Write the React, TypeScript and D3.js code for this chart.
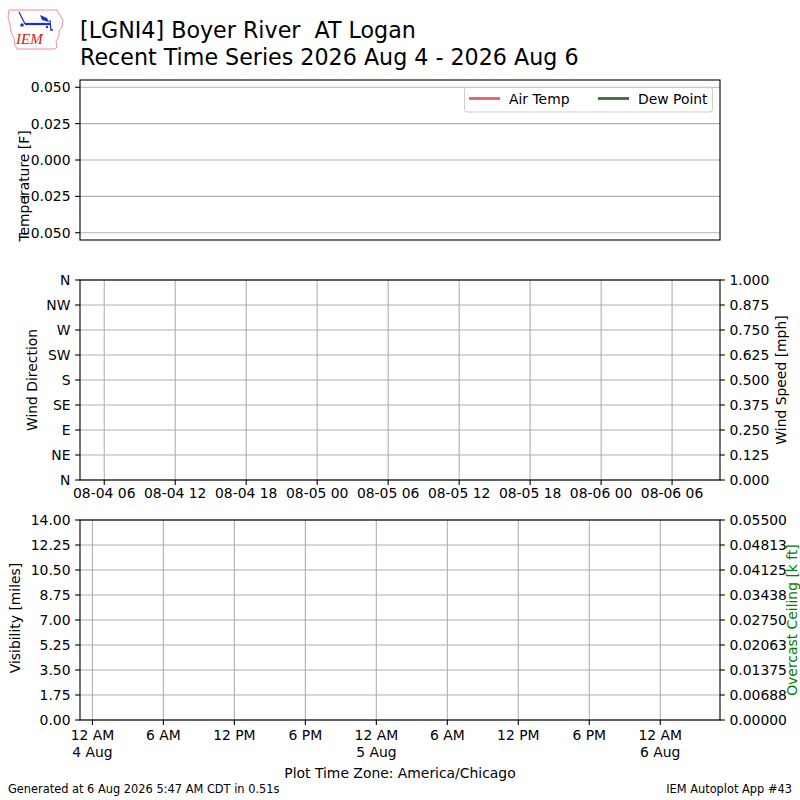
import { useRef, useEffect } from 'react'
import * as d3 from 'd3'

// Chart content
const titleLines = ['[LGNI4] Boyer River  AT Logan', 'Recent Time Series 2026 Aug 4 - 2026 Aug 6']
const timeDomain = ['2026-08-04T03:57:00Z', '2026-08-06T10:03:00Z']

const tempDomain = [-0.055, 0.055]
const tempTicks = [-0.05, -0.025, 0, 0.025, 0.05]

const legendNames = ['Air Temp', 'Dew Point']
const legendColors = ['#e0606e', '#3b6e3b']

const windDirTicks = [0, 45, 90, 135, 180, 225, 270, 315, 360]
const windDirLabels = ['N', 'NE', 'E', 'SE', 'S', 'SW', 'W', 'NW', 'N']
const windSpeedTicks = [0, 0.125, 0.25, 0.375, 0.5, 0.625, 0.75, 0.875, 1]

// UTC ticks for the wind panel
const utcTicks = [
  '2026-08-04T06:00:00Z', '2026-08-04T12:00:00Z', '2026-08-04T18:00:00Z',
  '2026-08-05T00:00:00Z', '2026-08-05T06:00:00Z', '2026-08-05T12:00:00Z',
  '2026-08-05T18:00:00Z', '2026-08-06T00:00:00Z', '2026-08-06T06:00:00Z',
]
const utcLabels = [
  '08-04 06', '08-04 12', '08-04 18', '08-05 00', '08-05 06',
  '08-05 12', '08-05 18', '08-06 00', '08-06 06',
]

// local (America/Chicago, CDT) ticks for the bottom panel
const localTicks = [
  '2026-08-04T05:00:00Z', '2026-08-04T11:00:00Z', '2026-08-04T17:00:00Z',
  '2026-08-04T23:00:00Z', '2026-08-05T05:00:00Z', '2026-08-05T11:00:00Z',
  '2026-08-05T17:00:00Z', '2026-08-05T23:00:00Z', '2026-08-06T05:00:00Z',
]
const localLabels = [
  ['12 AM', '4 Aug'], ['6 AM'], ['12 PM'], ['6 PM'], ['12 AM', '5 Aug'],
  ['6 AM'], ['12 PM'], ['6 PM'], ['12 AM', '6 Aug'],
]

const visTicks = [0, 1.75, 3.5, 5.25, 7, 8.75, 10.5, 12.25, 14]
const ceilTicks = [0, 0.006875, 0.01375, 0.020625, 0.0275, 0.034375, 0.04125, 0.048125, 0.055]

const FONT = 'DejaVu Sans, sans-serif'
const TICK_FS = 13.9
const GRID = '#b0b0b0'

export default function App() {
  const ref = useRef<SVGSVGElement>(null)

  useEffect(() => {
    if (!ref.current) return
    const svg = d3.select(ref.current)
    svg.selectAll('*').remove()

    svg.append('rect').attr('width', 800).attr('height', 800).attr('fill', '#fff')

    const x = d3.scaleUtc().domain(timeDomain.map((d) => new Date(d))).range([80, 720])

    const addText = (
      g: d3.Selection<any, unknown, null, undefined>,
      tx: number,
      ty: number,
      text: string,
      opts: { anchor?: string; size?: number; rotate?: boolean; fill?: string; dy?: string } = {},
    ) => {
      const t = g
        .append('text')
        .attr('x', tx)
        .attr('y', ty)
        .attr('font-family', FONT)
        .attr('font-size', opts.size ?? TICK_FS)
        .attr('fill', opts.fill ?? '#000')
        .attr('text-anchor', opts.anchor ?? 'start')
        .style('white-space', 'pre')
        .text(text)
      if (opts.dy) t.attr('dy', opts.dy)
      if (opts.rotate) t.attr('transform', `rotate(-90,${tx},${ty})`)
      return t
    }

    // Logo
    const logo = svg.append('g')
    logo
      .append('path')
      .attr('d', 'M9,10 L57,10 L59,14 L63,20 L62,27 L59,31 L59,36 L56,41 L57,47 L55,49 L17,49 L15,45 L14,38 L11,32 L10,25 L8,17 Z')
      .attr('fill', 'none')
      .attr('stroke', '#e8757a')
      .attr('stroke-width', 0.8)
    const blue = '#1a2fd0'
    logo.append('line').attr('x1', 25).attr('y1', 24).attr('x2', 50).attr('y2', 24).attr('stroke', blue).attr('stroke-width', 2.2)
    logo.append('line').attr('x1', 19).attr('y1', 12).attr('x2', 25).attr('y2', 24).attr('stroke', blue).attr('stroke-width', 1.2)
    logo.append('path').attr('d', 'M40,15 L47,18 L49,22 L42,20 Z').attr('fill', blue)
    logo.append('line').attr('x1', 50).attr('y1', 20).attr('x2', 51).attr('y2', 31).attr('stroke', blue).attr('stroke-width', 1.2)
    logo.append('circle').attr('cx', 22).attr('cy', 25).attr('r', 1.8).attr('fill', blue)
    logo.append('circle').attr('cx', 47).attr('cy', 27).attr('r', 1.2).attr('fill', blue)
    logo.append('circle').attr('cx', 52).attr('cy', 30).attr('r', 1).attr('fill', blue)
    logo
      .append('text')
      .attr('x', 16)
      .attr('y', 44)
      .attr('font-family', 'Liberation Serif, serif')
      .attr('font-style', 'italic')
      .attr('font-size', 15)
      .attr('fill', '#d42020')
      .text('IEM')

    // Title
    titleLines.forEach((t, i) => addText(svg, 80, 38 + i * 26.5, t, { size: 22.2 }))

    const gridH = (g: any, ys: number[]) =>
      ys.forEach((yy) =>
        g.append('line').attr('x1', 80).attr('x2', 720).attr('y1', yy).attr('y2', yy).attr('stroke', GRID).attr('stroke-width', 1.1),
      )
    const gridV = (g: any, xs: number[], top: number, bottom: number) =>
      xs.forEach((xx) =>
        g.append('line').attr('x1', xx).attr('x2', xx).attr('y1', top).attr('y2', bottom).attr('stroke', GRID).attr('stroke-width', 1.1),
      )
    const frame = (g: any, top: number, h: number) =>
      g
        .append('rect')
        .attr('x', 80)
        .attr('y', top)
        .attr('width', 640)
        .attr('height', h)
        .attr('fill', 'none')
        .attr('stroke', '#000')
        .attr('stroke-width', 1.1)
    const leftTicks = (g: any, ys: number[], labels: string[]) =>
      ys.forEach((yy, i) => {
        g.append('line').attr('x1', 75.1).attr('x2', 80).attr('y1', yy).attr('y2', yy).attr('stroke', '#000').attr('stroke-width', 1.1)
        addText(g, 70.5, yy, labels[i], { anchor: 'end', dy: '0.36em' })
      })
    const rightTicks = (g: any, ys: number[], labels: string[]) =>
      ys.forEach((yy, i) => {
        g.append('line').attr('x1', 720).attr('x2', 724.9).attr('y1', yy).attr('y2', yy).attr('stroke', '#000').attr('stroke-width', 1.1)
        addText(g, 729.5, yy, labels[i], { dy: '0.36em' })
      })
    const bottomTicks = (g: any, xs: number[], bottom: number) =>
      xs.forEach((xx) =>
        g.append('line').attr('x1', xx).attr('x2', xx).attr('y1', bottom).attr('y2', bottom + 4.9).attr('stroke', '#000').attr('stroke-width', 1.1),
      )

    // Panel 1: temperature
    const p1 = svg.append('g')
    const yT = d3.scaleLinear().domain(tempDomain).range([240, 80])
    const fmtT = d3.format('.3f')
    gridH(p1, tempTicks.map((d) => yT(d)))
    frame(p1, 80, 160)
    leftTicks(p1, tempTicks.map((d) => yT(d)), tempTicks.map((d) => fmtT(d)))
    addText(p1, 29, 186, 'Temperature [F]', { anchor: 'middle', rotate: true })

    // legend
    const lg = p1.append('g')
    lg.append('rect')
      .attr('x', 464.5).attr('y', 87.5).attr('width', 248).attr('height', 24.5).attr('rx', 2.5)
      .attr('fill', '#fff').attr('fill-opacity', 0.8).attr('stroke', '#cccccc').attr('stroke-width', 1)
    const legendX = [469, 598]
    legendNames.forEach((n, i) => {
      lg.append('line')
        .attr('x1', legendX[i]).attr('x2', legendX[i] + 31).attr('y1', 98.5).attr('y2', 98.5)
        .attr('stroke', legendColors[i]).attr('stroke-width', 2.8)
      addText(lg, legendX[i] + 40, 103.5, n)
    })

    // Panel 2: wind
    const p2 = svg.append('g')
    const yD = d3.scaleLinear().domain([0, 360]).range([480, 280])
    const yS = d3.scaleLinear().domain([0, 1]).range([480, 280])
    const utcX = utcTicks.map((d) => x(new Date(d)))
    gridH(p2, windDirTicks.map((d) => yD(d)))
    gridV(p2, utcX, 280, 480)
    frame(p2, 280, 200)
    leftTicks(p2, windDirTicks.map((d) => yD(d)), windDirLabels)
    rightTicks(p2, windSpeedTicks.map((d) => yS(d)), windSpeedTicks.map((d) => d3.format('.3f')(d)))
    bottomTicks(p2, utcX, 480)
    utcX.forEach((xx, i) => addText(p2, xx, 498, utcLabels[i], { anchor: 'middle' }))
    addText(p2, 37, 380, 'Wind Direction', { anchor: 'middle', rotate: true })
    addText(p2, 786, 380, 'Wind Speed [mph]', { anchor: 'middle', rotate: true })

    // Panel 3: visibility / ceiling
    const p3 = svg.append('g')
    const yV = d3.scaleLinear().domain([0, 14]).range([720, 520])
    const yC = d3.scaleLinear().domain([0, 0.055]).range([720, 520])
    const locX = localTicks.map((d) => x(new Date(d)))
    gridH(p3, visTicks.map((d) => yV(d)))
    gridV(p3, locX, 520, 720)
    frame(p3, 520, 200)
    leftTicks(p3, visTicks.map((d) => yV(d)), visTicks.map((d) => d3.format('.2f')(d)))
    rightTicks(p3, ceilTicks.map((d) => yC(d)), ceilTicks.map((d) => d3.format('.5f')(d)))
    bottomTicks(p3, locX, 720)
    locX.forEach((xx, i) =>
      localLabels[i].forEach((l, j) => addText(p3, xx, 740 + j * 17, l, { anchor: 'middle' })),
    )
    addText(p3, 20, 618, 'Visibility [miles]', { anchor: 'middle', rotate: true })
    addText(p3, 797, 620, 'Overcast Ceiling [k ft]', { anchor: 'middle', rotate: true, fill: '#008000' })

    // Footer
    addText(svg, 400, 778, 'Plot Time Zone: America/Chicago', { anchor: 'middle' })
    addText(svg, 8, 793, 'Generated at 6 Aug 2026 5:47 AM CDT in 0.51s', { size: 11.4 })
    addText(svg, 792, 793, 'IEM Autoplot App #43', { anchor: 'end', size: 11.4 })
  }, [])

  return (
    <svg
      ref={ref}
      width={800}
      height={800}
      style={{ position: 'absolute', left: 0, top: 0, display: 'block' }}
    />
  )
}
